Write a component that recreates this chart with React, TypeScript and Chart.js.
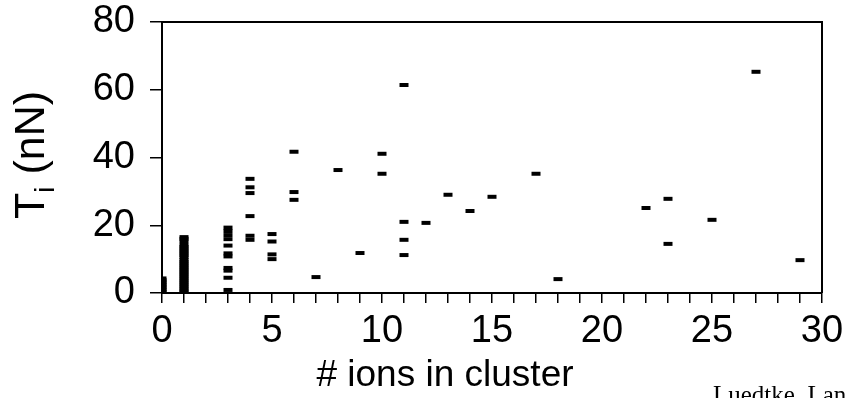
import React, { useEffect, useRef } from "react";
import { Chart, registerables } from "chart.js";

Chart.register(...registerables);

// # ions in cluster (x) and the measured T_i values (nN) observed for each cluster size
const clusterSizes = [0, 1, 3, 4, 5, 6, 7, 8, 9, 10, 11, 12, 13, 14, 15, 17, 18, 22, 23, 25, 27, 29];
const tensionsByCluster = [
  [0.3, 0.8, 1.3, 1.8, 2.3, 2.8, 3.3, 3.8, 4.3],
  [0.3, 0.8, 1.4, 2.0, 2.6, 3.2, 3.8, 4.4, 5.0, 5.6, 6.2, 6.8, 7.4, 8.0, 8.6, 9.2, 9.8, 10.6, 11.2, 11.8, 12.4, 13.0, 13.6, 14.2, 15.3, 16.0, 16.5],
  [0.9, 4.5, 6.6, 7.4, 10.8, 11.7, 14.0, 15.9, 17.1, 18.3, 19.3],
  [15.7, 16.9, 22.7, 29.5, 31.2, 33.7],
  [10.0, 11.4, 15.2, 17.4],
  [27.5, 29.8, 41.7],
  [4.7],
  [36.3],
  [11.8],
  [35.2, 41.1],
  [11.2, 15.7, 21.0, 61.4],
  [20.7],
  [29.0],
  [24.2],
  [28.4],
  [35.2],
  [4.1],
  [25.1],
  [14.5, 27.8],
  [21.6],
  [65.3],
  [9.7],
];

const xTickLabels = ["0", "5", "10", "15", "20", "25", "30"];
const yTickLabels = ["0", "20", "40", "60", "80"];
const xTitle = "# ions in cluster";
const yTitleMain = "T";
const yTitleSub = "i";
const yTitleRest = " (nN)";
const creditText = "Luedtke, Lan";

const FONT = "'Liberation Sans', Arial, sans-serif";

export default function App() {
  const ref = useRef<HTMLCanvasElement | null>(null);

  useEffect(() => {
    if (!ref.current) return;
    const points: { x: number; y: number }[] = [];
    clusterSizes.forEach((n, i) => {
      tensionsByCluster[i].forEach((t) => points.push({ x: n, y: t }));
    });

    const decorations = {
      id: "decorations",
      afterDraw(chart: any) {
        const { ctx, chartArea } = chart;
        ctx.save();
        // frame top and right
        ctx.strokeStyle = "#000";
        ctx.lineWidth = 2;
        ctx.beginPath();
        ctx.moveTo(chartArea.left, chartArea.top);
        ctx.lineTo(chartArea.right, chartArea.top);
        ctx.lineTo(chartArea.right, chartArea.bottom);
        ctx.stroke();

        ctx.fillStyle = "#000";
        // x title
        ctx.font = `37px ${FONT}`;
        ctx.textAlign = "center";
        ctx.textBaseline = "alphabetic";
        ctx.fillText(xTitle, 445, 386);

        // y title rotated with subscript
        ctx.save();
        ctx.translate(44, 155);
        ctx.rotate(-Math.PI / 2);
        ctx.textAlign = "left";
        ctx.font = `43px ${FONT}`;
        const wT = ctx.measureText(yTitleMain).width;
        const wR = ctx.measureText(yTitleRest).width;
        ctx.font = `28px ${FONT}`;
        const wI = ctx.measureText(yTitleSub).width;
        let x = -(wT + wI + wR) / 2;
        ctx.font = `43px ${FONT}`;
        ctx.fillText(yTitleMain, x, 0);
        x += wT;
        ctx.font = `28px ${FONT}`;
        ctx.fillText(yTitleSub, x, 10);
        x += wI;
        ctx.font = `43px ${FONT}`;
        ctx.fillText(yTitleRest, x, 0);
        ctx.restore();

        // credit text
        ctx.font = "25px 'Liberation Serif', 'Times New Roman', serif";
        ctx.textAlign = "left";
        ctx.fillText(creditText, 713, 403);
        ctx.restore();
      },
    };

    const chart = new Chart(ref.current, {
      type: "scatter",
      data: {
        datasets: [
          {
            data: points,
            pointStyle: "line",
            pointRadius: 4.5,
            pointBorderWidth: 4,
            borderColor: "#000",
            backgroundColor: "#000",
            pointHoverRadius: 4.5,
          },
        ],
      },
      options: {
        animation: false,
        responsive: false,
        devicePixelRatio: 1,
        layout: { padding: { left: 0, top: 0, right: 24, bottom: 0 } },
        plugins: { legend: { display: false }, tooltip: { enabled: false } },
        scales: {
          x: {
            type: "linear",
            min: 0,
            max: 30,
            afterFit: (s: any) => {
              s.height = 105;
              s.paddingLeft = 0;
              s.paddingRight = 0;
            },
            ticks: {
              stepSize: 1,
              autoSkip: false,
              maxRotation: 0,
              padding: 6,
              color: "#000",
              font: { family: FONT, size: 38 },
              callback: (v: any) => {
                const idx = xTickLabels.indexOf(String(v));
                return idx >= 0 ? xTickLabels[idx] : "";
              },
            },
            grid: { drawOnChartArea: false, drawTicks: true, tickLength: 10, color: "#000", lineWidth: 1.5 },
            border: { display: true, color: "#000", width: 2 },
          },
          y: {
            min: 0,
            max: 80,
            afterFit: (s: any) => {
              s.width = 162;
              s.paddingTop = 22;
              s.paddingBottom = 0;
            },
            ticks: {
              stepSize: 20,
              padding: 15,
              color: "#000",
              font: { family: FONT, size: 38 },
              callback: (v: any) => {
                const idx = yTickLabels.indexOf(String(v));
                return idx >= 0 ? yTickLabels[idx] : "";
              },
            },
            grid: { drawOnChartArea: false, drawTicks: true, tickLength: 12, color: "#000", lineWidth: 1.5 },
            border: { display: true, color: "#000", width: 2 },
          },
        },
      },
      plugins: [decorations],
    });
    return () => chart.destroy();
  }, []);

  return (
    <div style={{ position: "fixed", left: 0, top: 0, width: 846, height: 398, background: "#fff" }}>
      <canvas ref={ref} width={846} height={398} style={{ width: 846, height: 398, display: "block" }} />
    </div>
  );
}
